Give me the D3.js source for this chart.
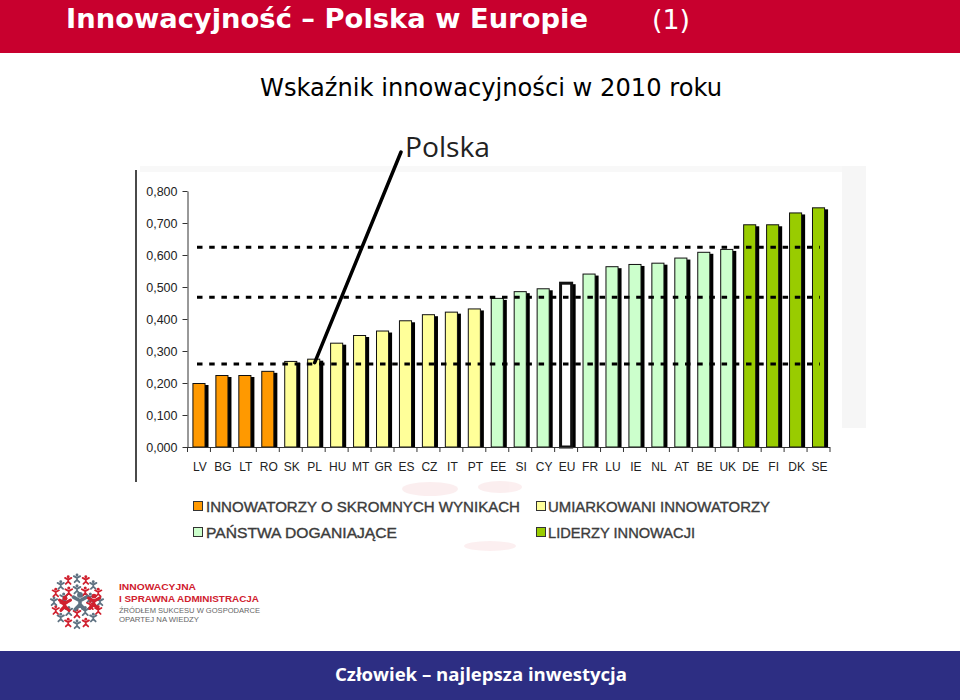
<!DOCTYPE html>
<html>
<head>
<meta charset="utf-8">
<script src="https://cdn.jsdelivr.net/npm/d3@7"></script>
<style>
  html, body { margin: 0; padding: 0; background: #fff; }
  svg { display: block; }
</style>
</head>
<body>
<svg id="chart" width="960" height="700"></svg>
<script>
// ---------------- DATA ----------------
const categories = ["LV","BG","LT","RO","SK","PL","HU","MT","GR","ES","CZ","IT","PT","EE","SI","CY","EU","FR","LU","IE","NL","AT","BE","UK","DE","FI","DK","SE"];
const values = [0.200,0.225,0.225,0.238,0.269,0.276,0.326,0.350,0.364,0.396,0.415,0.423,0.433,0.466,0.487,0.496,0.515,0.542,0.565,0.572,0.576,0.592,0.610,0.619,0.696,0.696,0.733,0.749];
// group index: 0 modest, 1 moderate, 2 followers, 3 EU average, 4 leaders
const groups = [0,0,0,0,1,1,1,1,1,1,1,1,1,2,2,2,3,2,2,2,2,2,2,2,4,4,4,4];
const groupColors = ["#FF9900","#FFFF99","#CCFFCC","#FFFFFF","#99CC00"];
const legendLabels = ["INNOWATORZY O SKROMNYCH WYNIKACH","UMIARKOWANI INNOWATORZY","PAŃSTWA DOGANIAJĄCE","LIDERZY INNOWACJI"];
const legendGroups = [0,1,2,4];
const thresholds = [0.259, 0.468, 0.624];
const yTicks = [0,0.1,0.2,0.3,0.4,0.5,0.6,0.7,0.8];
const highlightCategory = "PL";
const highlightLabel = "Polska";
const title = "Innowacyjność – Polska w Europie";
const titleNum = "(1)";
const subtitle = "Wskaźnik innowacyjności w 2010 roku";
const footer = "Człowiek –  najlepsza inwestycja";
const logoLines = ["INNOWACYJNA","I SPRAWNA ADMINISTRACJA","ŹRÓDŁEM SUKCESU W GOSPODARCE","OPARTEJ NA WIEDZY"];

// ---------------- DRAW ----------------
const svg = d3.select("#chart");
const ARIAL = "'Liberation Sans', Arial, sans-serif";

// header bar
svg.append("rect").attr("x",0).attr("y",0).attr("width",960).attr("height",53).attr("fill","#C8002E");
svg.append("text").attr("x",66).attr("y",28)
  .attr("font-family","'DejaVu Sans', Verdana, sans-serif").attr("font-weight","bold")
  .attr("font-size",27).attr("fill","#fff")
  .attr("textLength",522).attr("lengthAdjust","spacingAndGlyphs").text(title);
svg.append("text").attr("x",652).attr("y",29)
  .attr("font-family","'DejaVu Sans', Verdana, sans-serif")
  .attr("font-size",27).attr("fill","#fff")
  .attr("textLength",38).attr("lengthAdjust","spacingAndGlyphs").text(titleNum);

// subtitle
svg.append("text").attr("x",260).attr("y",96)
  .attr("font-family","'DejaVu Sans', Verdana, sans-serif")
  .attr("font-size",24).attr("fill","#000")
  .attr("textLength",462).attr("lengthAdjust","spacingAndGlyphs").text(subtitle);

// faint background of pasted chart image
svg.append("rect").attr("x",140).attr("y",166).attr("width",726).attr("height",6).attr("fill","#f8f8f8");
svg.append("rect").attr("x",842).attr("y",166).attr("width",24).attr("height",262).attr("fill","#f6f6f6");
// left vertical rule
svg.append("line").attr("x1",136).attr("x2",136).attr("y1",170).attr("y2",482)
  .attr("stroke","#4a4a4a").attr("stroke-width",2);

// scales
const x = d3.scaleBand().domain(categories).range([187.5, 830]).paddingInner(0.43).paddingOuter(0.215);
const y = d3.scaleLinear().domain([0, 0.8]).range([447, 191]);

const plot = svg.append("g");

// bars: shadow then bar
const bars = plot.selectAll("g.bar").data(categories.map((c,i)=>({c, v: values[i], g: groups[i]})))
  .join("g").attr("class","bar");
bars.append("rect")
  .attr("x", d => x(d.c) + 3).attr("y", d => y(d.v) + 2)
  .attr("width", x.bandwidth()).attr("height", d => y(0) - y(d.v) - 2)
  .attr("fill","#000");
bars.append("rect")
  .attr("x", d => x(d.c) + (d.g === 3 ? 1 : 0.5)).attr("y", d => y(d.v) + (d.g === 3 ? 1 : 0.5))
  .attr("width", d => x.bandwidth() - (d.g === 3 ? 2 : 1)).attr("height", d => y(0) - y(d.v) - (d.g === 3 ? 1 : 0.5))
  .attr("fill", d => groupColors[d.g])
  .attr("stroke","#111").attr("stroke-width", d => d.g === 3 ? 3 : 1);

// x axis line and boundary ticks
plot.append("line").attr("x1",187.5).attr("x2",830).attr("y1",y(0)+0.5).attr("y2",y(0)+0.5)
  .attr("stroke","#333").attr("stroke-width",1);
const boundaries = d3.range(categories.length + 1).map(i => x.range()[0] + i * x.step());
plot.selectAll("line.xt").data(boundaries).join("line").attr("class","xt")
  .attr("x1", d => d).attr("x2", d => d).attr("y1", y(0)).attr("y2", y(0) + 5)
  .attr("stroke","#333").attr("stroke-width",1);
plot.selectAll("text.xl").data(categories).join("text").attr("class","xl")
  .attr("x", d => x(d) + x.bandwidth()/2 + 1).attr("y", 471)
  .attr("text-anchor","middle").attr("font-family",ARIAL).attr("font-size",12).attr("fill","#222")
  .text(d => d);

// y axis
const fmt = v => d3.format(".3f")(v).replace(".", ",");
const yAxis = d3.axisLeft(y).tickValues(yTicks).tickFormat(fmt).tickSize(5).tickSizeOuter(0);
const yg = plot.append("g").attr("transform","translate(187.5,0)").call(yAxis);
yg.select(".domain").attr("stroke","#333");
yg.selectAll(".tick line").attr("stroke","#333");
yg.selectAll(".tick text").attr("font-family",ARIAL).attr("font-size",12.5).attr("fill","#222").attr("x",-10);

// dashed threshold lines (drawn over bars)
plot.selectAll("line.thr").data(thresholds).join("line").attr("class","thr")
  .attr("x1",197).attr("x2",820).attr("y1", d => y(d)).attr("y2", d => y(d))
  .attr("stroke","#000").attr("stroke-width",3).attr("stroke-dasharray","5.5,6.7");

// Polska callout
const pi = categories.indexOf(highlightCategory);
const px = x(highlightCategory) + x.bandwidth()/2 + 1;
const py = y(values[pi]) + 4;
plot.append("line").attr("x1",401).attr("y1",152).attr("x2",px).attr("y2",py)
  .attr("stroke","#000").attr("stroke-width",3.5).attr("stroke-linecap","round");
plot.append("text").attr("x",405).attr("y",157)
  .attr("font-family","'Open Sans', 'Noto Sans', sans-serif").attr("font-size",28).attr("fill","#222")
  .attr("textLength",85).attr("lengthAdjust","spacingAndGlyphs").text(highlightLabel);

// faint watermark behind legend
const wm = svg.append("g").attr("opacity",0.07);
wm.append("ellipse").attr("cx",430).attr("cy",489).attr("rx",28).attr("ry",7).attr("fill","#d0202e");
wm.append("ellipse").attr("cx",500).attr("cy",487).attr("rx",22).attr("ry",6).attr("fill","#d0202e");
wm.append("ellipse").attr("cx",490).attr("cy",546).attr("rx",26).attr("ry",5).attr("fill","#d0202e");

// legend
const legPos = [[193,507,206,314],[536,507,548,222],[193,533,206,191],[536,533,548,147]];
legendLabels.forEach((lab,i) => {
  const [sx, cy, tx, tw] = legPos[i];
  svg.append("rect").attr("x",sx+0.5).attr("y",cy-5.5).attr("width",9).attr("height",9)
    .attr("fill", groupColors[legendGroups[i]]).attr("stroke","#333").attr("stroke-width",1);
  svg.append("text").attr("x",tx).attr("y",cy+5)
    .attr("font-family",ARIAL).attr("font-size",14).attr("fill","#3c3c3c")
    .attr("stroke","#3c3c3c").attr("stroke-width",0.35)
    .attr("textLength",tw).attr("lengthAdjust","spacingAndGlyphs").text(lab);
});

// logo (decorative figures)
const logo = svg.append("g");
function figure(cx, cy, s, col) {
  const g = logo.append("g");
  g.append("circle").attr("cx",cx).attr("cy",cy - 1.25*s).attr("r",0.45*s).attr("fill",col);
  g.append("path")
    .attr("d",`M${cx-s},${cy-0.9*s} L${cx},${cy-0.35*s} L${cx+s},${cy-0.9*s} M${cx},${cy-0.4*s} L${cx},${cy+0.25*s} M${cx-0.75*s},${cy+s} L${cx},${cy+0.25*s} L${cx+0.75*s},${cy+s}`)
    .attr("fill","none").attr("stroke",col).attr("stroke-width",0.55*s)
    .attr("stroke-linejoin","round").attr("stroke-linecap","round");
}
const RED = "#d0202e", GRAY = "#5f7282";
const lcx = 77, lcy = 602;
d3.range(16).forEach(i => {
  const a = i / 16 * 2 * Math.PI;
  figure(lcx + 23*Math.cos(a), lcy + 23*Math.sin(a), 3.2, i % 2 ? RED : GRAY);
});
d3.range(10).forEach(i => {
  const a = (i + 0.5) / 10 * 2 * Math.PI;
  figure(lcx + 14*Math.cos(a), lcy + 12*Math.sin(a), 3.4, i % 2 ? GRAY : RED);
});
figure(lcx + 3, lcy + 1, 6.5, GRAY);
figure(lcx - 12, lcy + 3, 5.5, RED);
figure(lcx + 17, lcy + 1, 5.5, RED);

const lf = "'Liberation Sans', Arial, sans-serif";
svg.append("text").attr("x",119).attr("y",590).attr("font-family",lf).attr("font-weight","bold")
  .attr("font-size",9.5).attr("fill",RED).attr("textLength",77).attr("lengthAdjust","spacingAndGlyphs").text(logoLines[0]);
svg.append("text").attr("x",119).attr("y",601.5).attr("font-family",lf).attr("font-weight","bold")
  .attr("font-size",9.5).attr("fill",RED).attr("textLength",140).attr("lengthAdjust","spacingAndGlyphs").text(logoLines[1]);
svg.append("text").attr("x",119).attr("y",612.5).attr("font-family",lf)
  .attr("font-size",8).attr("fill","#666").attr("textLength",141).attr("lengthAdjust","spacingAndGlyphs").text(logoLines[2]);
svg.append("text").attr("x",119).attr("y",622).attr("font-family",lf)
  .attr("font-size",8).attr("fill","#666").attr("textLength",80).attr("lengthAdjust","spacingAndGlyphs").text(logoLines[3]);

// footer
svg.append("rect").attr("x",0).attr("y",651).attr("width",960).attr("height",49).attr("fill","#2D2E83");
svg.append("text").attr("x",335).attr("y",681)
  .attr("font-family","'Open Sans', 'Noto Sans', sans-serif").attr("font-weight","bold")
  .attr("font-size",18).attr("fill","#fff")
  .attr("textLength",292).attr("lengthAdjust","spacingAndGlyphs").text(footer);
</script>
</body>
</html>
